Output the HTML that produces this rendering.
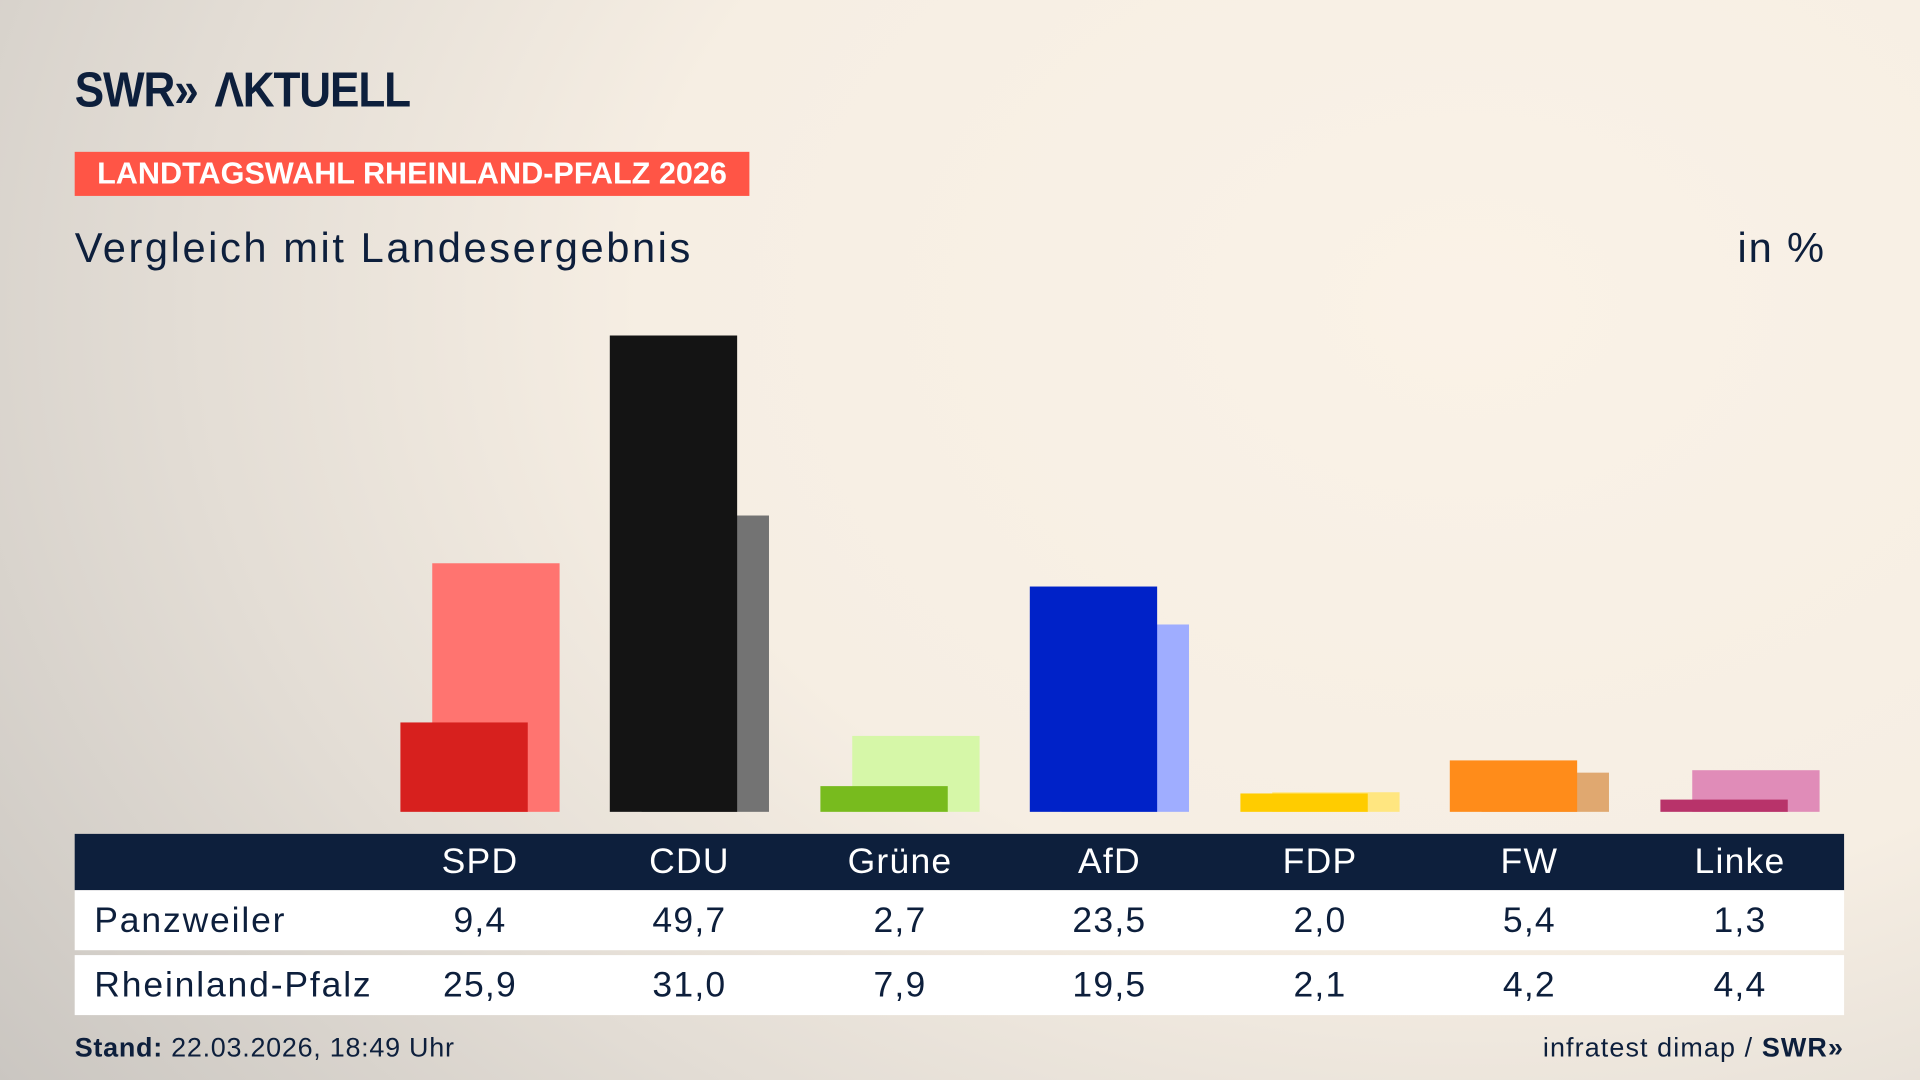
<!DOCTYPE html>
<html><head><meta charset="utf-8"><style>
html,body{margin:0;padding:0;width:1920px;height:1080px;overflow:hidden}
#w{position:absolute;left:0;top:0;width:1568px;height:882px;transform:scale(1.22449);transform-origin:0 0;
background:radial-gradient(ellipse 1500px 1100px at 1200px 250px,#faf2e7 0%,#f6eee3 45%,#e3ddd5 70%,#c9c5c0 100%);
font-family:"Liberation Sans",sans-serif;color:#0d1f3c}
.a{position:absolute}
.b{position:absolute;bottom:219px}
.t{position:absolute;text-align:center;width:120px;font-size:29px;letter-spacing:1px}
</style></head><body><div id="w">
<div class="a" style="left:61px;top:52px;font-size:40px;font-weight:bold;letter-spacing:-1px;transform:scaleX(0.9);transform-origin:0 0">SWR<span style="letter-spacing:-6px">»</span>&nbsp; ΛKTUELL</div>
<div class="a" style="left:61px;top:124px;width:551px;height:36px;background:#ff5546;color:#fff;font-weight:bold;font-size:25px;line-height:37px;text-align:center;white-space:nowrap">LANDTAGSWAHL RHEINLAND-PFALZ 2026</div>
<div class="a" style="left:61px;top:184px;font-size:34px;letter-spacing:2.1px">Vergleich mit Landesergebnis</div>
<div class="a" style="left:1419px;top:184px;font-size:34px;letter-spacing:1.5px">in %</div>

<div class="b" style="left:353px;width:104px;height:203px;background:#ff7470"></div>
<div class="b" style="left:327px;width:104px;height:73px;background:#d7201e"></div>
<div class="b" style="left:524px;width:104px;height:242px;background:#737373"></div>
<div class="b" style="left:498px;width:104px;height:389px;background:#141414"></div>
<div class="b" style="left:696px;width:104px;height:62px;background:#d6f7a8"></div>
<div class="b" style="left:670px;width:104px;height:21px;background:#78bb1e"></div>
<div class="b" style="left:867px;width:104px;height:153px;background:#9fadff"></div>
<div class="b" style="left:841px;width:104px;height:184px;background:#0022c8"></div>
<div class="b" style="left:1039px;width:104px;height:16px;background:#ffe680"></div>
<div class="b" style="left:1013px;width:104px;height:15px;background:#ffcc00"></div>
<div class="b" style="left:1210px;width:104px;height:32px;background:#e0a870"></div>
<div class="b" style="left:1184px;width:104px;height:42px;background:#ff8c1a"></div>
<div class="b" style="left:1382px;width:104px;height:34px;background:#e08cb8"></div>
<div class="b" style="left:1356px;width:104px;height:10px;background:#b8336a"></div>

<div class="a" style="left:61px;top:681px;width:1445px;height:46px;background:#0d1f3c"></div>
<div class="a" style="left:61px;top:727px;width:1445px;height:49px;background:#fff"></div>
<div class="a" style="left:61px;top:780px;width:1445px;height:49px;background:#fff"></div>
<div class="a" style="left:77px;top:736px;font-size:29px;letter-spacing:1.5px">Panzweiler</div>
<div class="a" style="left:77px;top:789px;font-size:29px;letter-spacing:1.5px">Rheinland-Pfalz</div>
<div style="color:#fff">
<div class="t" style="left:332px;top:688px">SPD</div><div class="t" style="left:503px;top:688px">CDU</div><div class="t" style="left:675px;top:688px">Grüne</div><div class="t" style="left:846px;top:688px">AfD</div><div class="t" style="left:1018px;top:688px">FDP</div><div class="t" style="left:1189px;top:688px">FW</div><div class="t" style="left:1361px;top:688px">Linke</div>
</div>
<div class="t" style="left:332px;top:736px">9,4</div><div class="t" style="left:503px;top:736px">49,7</div><div class="t" style="left:675px;top:736px">2,7</div><div class="t" style="left:846px;top:736px">23,5</div><div class="t" style="left:1018px;top:736px">2,0</div><div class="t" style="left:1189px;top:736px">5,4</div><div class="t" style="left:1361px;top:736px">1,3</div>
<div class="t" style="left:332px;top:789px">25,9</div><div class="t" style="left:503px;top:789px">31,0</div><div class="t" style="left:675px;top:789px">7,9</div><div class="t" style="left:846px;top:789px">19,5</div><div class="t" style="left:1018px;top:789px">2,1</div><div class="t" style="left:1189px;top:789px">4,2</div><div class="t" style="left:1361px;top:789px">4,4</div>
<div class="a" style="left:61px;top:843px;font-size:22px;letter-spacing:0.6px"><b>Stand:</b> 22.03.2026, 18:49 Uhr</div>
<div class="a" style="right:62px;top:843px;font-size:22px;letter-spacing:0.9px">infratest dimap / <b>SWR»</b></div>
</div></body></html>
